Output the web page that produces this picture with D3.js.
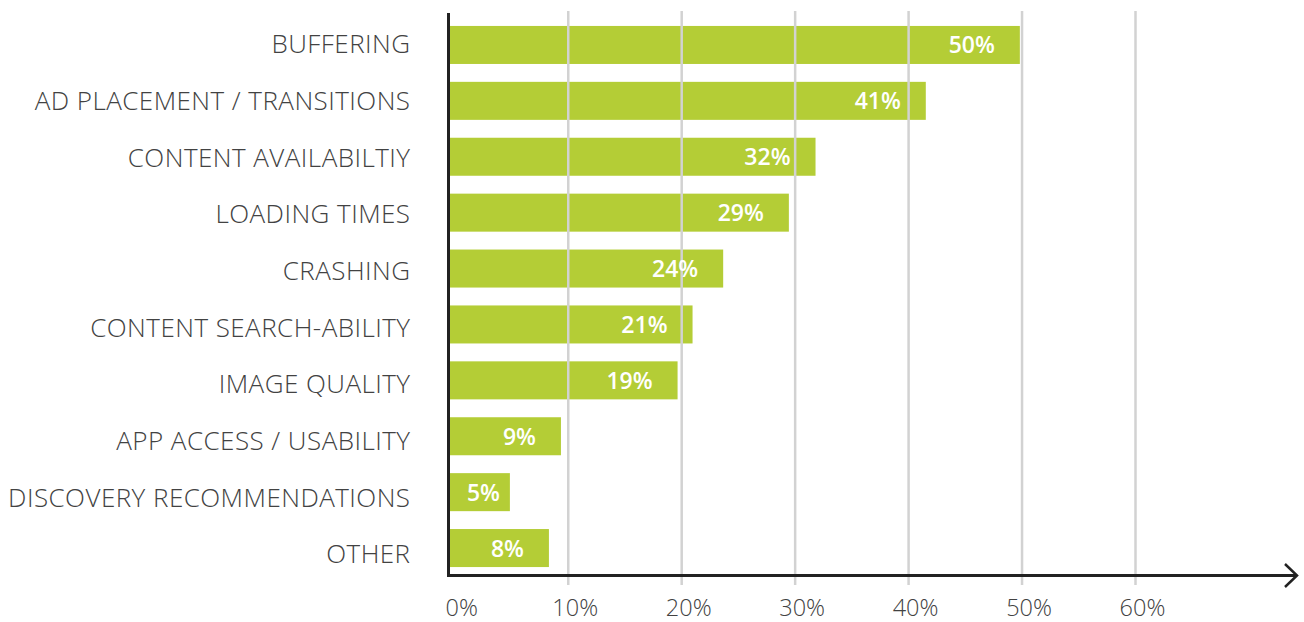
<!DOCTYPE html>
<html>
<head>
<meta charset="utf-8">
<script src="https://cdn.jsdelivr.net/npm/d3@7"></script>
<style>
  html, body { margin: 0; padding: 0; background: #fff; }
  svg { display: block; }
</style>
</head>
<body>
<svg id="chart" width="1304" height="622"></svg>
<script>
const categories = [
  "BUFFERING",
  "AD PLACEMENT / TRANSITIONS",
  "CONTENT AVAILABILTIY",
  "LOADING TIMES",
  "CRASHING",
  "CONTENT SEARCH-ABILITY",
  "IMAGE QUALITY",
  "APP ACCESS / USABILITY",
  "DISCOVERY RECOMMENDATIONS",
  "OTHER"
];
const values = [49.85, 41.56, 31.84, 29.49, 23.7, 21.0, 19.68, 9.4, 4.9, 8.34];
const valueLabels = ["50%", "41%", "32%", "29%", "24%", "21%", "19%", "9%", "5%", "8%"];
const tickValues = [0, 10, 20, 30, 40, 50, 60];
const tickLabels = ["0%", "10%", "20%", "30%", "40%", "50%", "60%"];

const svg = d3.select("#chart");
const FONT = "'Open Sans', 'Noto Sans', sans-serif";
const axisX = 448.5, axisY = 575.5, axisTop = 13, arrowEnd = 1297;

const x = d3.scaleLinear().domain([0, 60]).range([454.3, 1135]);
const y = d3.scaleBand().domain(categories).range([17, 576])
  .paddingInner(0.32).paddingOuter(0.16);
// category label positions (slightly wider spread than the bars, as in the original)
const yLabel = d3.scalePoint().domain(categories).range([43.5, 553.8]);

// bars
svg.append("g").selectAll("rect").data(categories).join("rect")
  .attr("x", axisX + 1.5)
  .attr("y", d => y(d))
  .attr("width", (d, i) => x(values[i]) - (axisX + 1.5))
  .attr("height", y.bandwidth())
  .attr("fill", "#b4cd36");

// gridlines (drawn over bars)
const grid = svg.append("g").attr("transform", `translate(0,${axisTop - 2})`)
  .call(d3.axisBottom(x).tickValues(tickValues.filter(v => v > 0))
    .tickSize(585 - (axisTop - 2)).tickFormat(""));
grid.select(".domain").remove();
grid.selectAll(".tick line").attr("stroke", "#d2d2d2").attr("stroke-width", 2.5);

// value labels
svg.append("g").selectAll("text").data(categories).join("text")
  .attr("x", (d, i) => Math.max(x(values[i]) - 25, axisX + 51.5))
  .attr("y", d => y(d) + y.bandwidth() / 2 + 8.5)
  .attr("text-anchor", "end")
  .attr("fill", "#ffffff")
  .attr("font-family", FONT)
  .attr("font-weight", 600)
  .attr("font-size", 23)
  .text((d, i) => valueLabels[i]);

// category labels
const yAxis = svg.append("g").attr("transform", `translate(410.5,0)`)
  .call(d3.axisLeft(yLabel).tickSize(0).tickPadding(0));
yAxis.select(".domain").remove();
yAxis.selectAll(".tick text")
  .attr("font-family", FONT)
  .attr("font-weight", 300)
  .attr("font-size", 26)
  .attr("letter-spacing", 0.45)
  .attr("fill", "#424242")
  .attr("dy", "0.35em");

// bottom tick labels
const xAxis = svg.append("g").attr("transform", `translate(0,${axisY})`)
  .call(d3.axisBottom(x).tickValues(tickValues).tickSize(0).tickPadding(0)
    .tickFormat((d, i) => tickLabels[i]));
xAxis.select(".domain").remove();
xAxis.selectAll(".tick text")
  .attr("font-family", FONT)
  .attr("font-weight", 300)
  .attr("font-size", 23.5)
  .attr("fill", "#424242")
  .attr("dx", 7)
  .attr("dy", 0)
  .attr("y", 40.5);

// axes lines
svg.append("line").attr("x1", axisX).attr("x2", axisX)
  .attr("y1", axisTop).attr("y2", axisY + 1.5)
  .attr("stroke", "#222").attr("stroke-width", 3);
svg.append("line").attr("x1", axisX - 1.5).attr("x2", arrowEnd - 1)
  .attr("y1", axisY).attr("y2", axisY)
  .attr("stroke", "#222").attr("stroke-width", 3);
svg.append("path")
  .attr("d", `M${arrowEnd - 12},${axisY - 11.5} L${arrowEnd},${axisY} L${arrowEnd - 12},${axisY + 11.5}`)
  .attr("fill", "none").attr("stroke", "#222").attr("stroke-width", 2.5);
</script>
</body>
</html>
